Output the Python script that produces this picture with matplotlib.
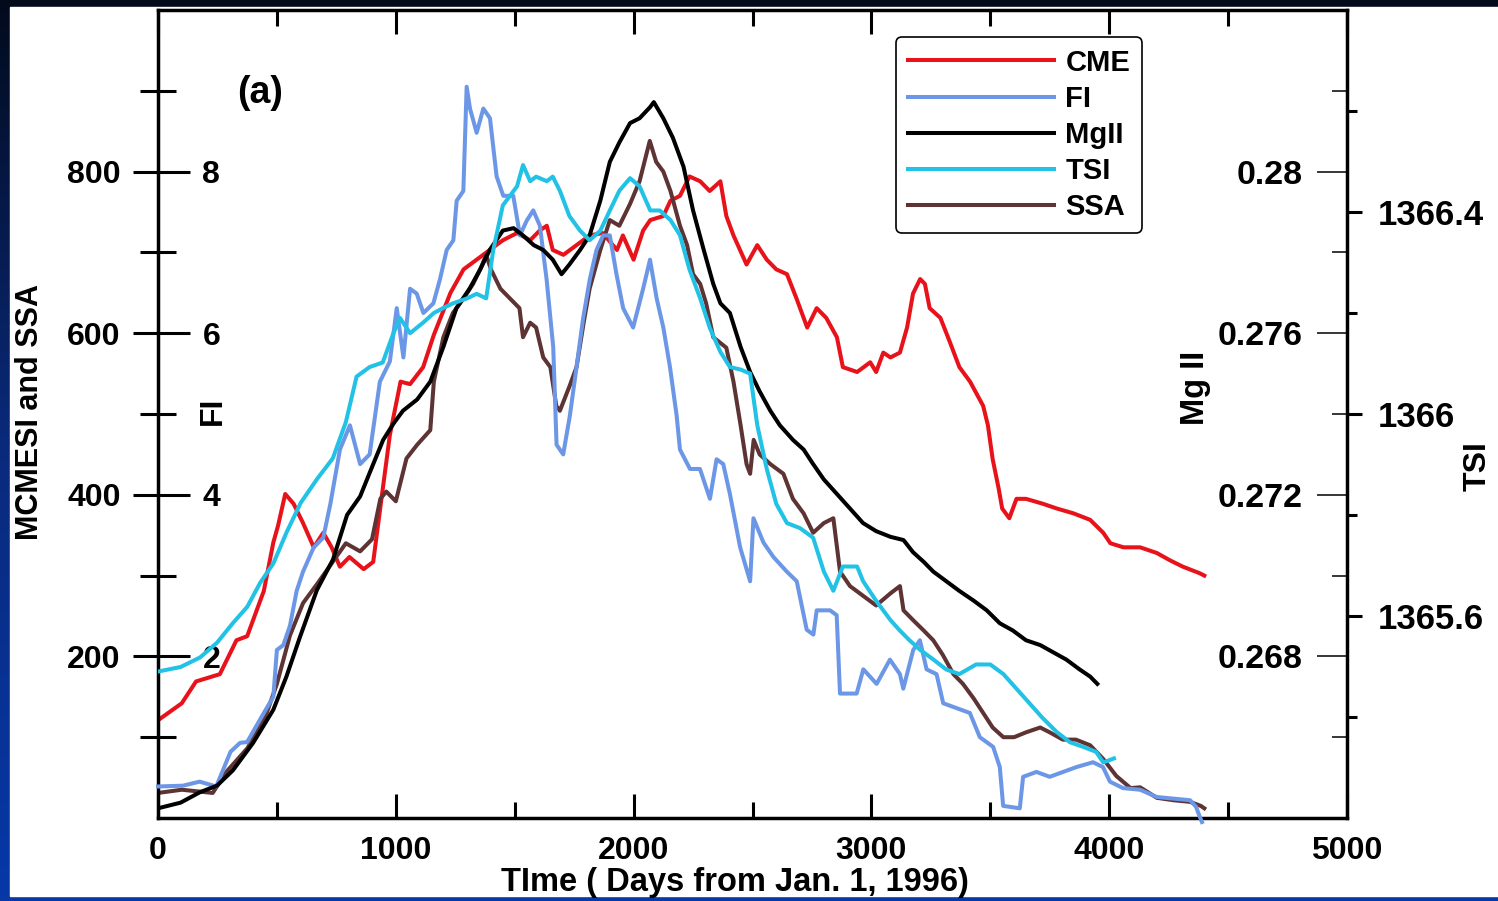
import numpy as np
import matplotlib
matplotlib.use("Agg")
import matplotlib.pyplot as plt
from matplotlib.colors import LinearSegmentedColormap
from matplotlib.patches import Rectangle
from matplotlib.ticker import FixedLocator, MultipleLocator, FormatStrFormatter

# (day, value) pairs, each in its own axis unit
cme = [(0, 121), (100, 142), (160, 169), (260, 178), (330, 220), (375, 225), (445, 281), (485, 341),
       (505, 362), (535, 401), (570, 389), (610, 365), (655, 335), (695, 353), (730, 335), (765, 311),
       (805, 323), (865, 308), (905, 317), (945, 407), (975, 474), (1020, 540), (1060, 537), (1115, 558),
       (1160, 598), (1230, 650), (1285, 679), (1340, 691), (1395, 703), (1450, 715), (1510, 724), (1565, 715),
       (1605, 727), (1635, 733), (1660, 703), (1705, 697), (1760, 709), (1815, 721), (1870, 724), (1930, 703),
       (1955, 721), (2000, 691), (2040, 727), (2070, 740), (2125, 745), (2155, 764), (2195, 770), (2235, 794),
       (2280, 788), (2320, 776), (2365, 788), (2390, 745), (2420, 721), (2475, 685), (2520, 709), (2560, 691),
       (2600, 679), (2645, 673), (2685, 643), (2730, 607), (2770, 631), (2810, 619), (2855, 595), (2880, 558),
       (2940, 552), (2995, 564), (3020, 552), (3050, 576), (3080, 570), (3120, 576), (3150, 607), (3175, 649),
       (3205, 667), (3225, 661), (3245, 631), (3290, 619), (3330, 589), (3370, 558), (3415, 540), (3470, 510),
       (3490, 486), (3510, 444), (3535, 408), (3550, 383), (3580, 371), (3610, 395), (3650, 395), (3720, 389),
       (3780, 383), (3850, 377), (3920, 369), (3975, 353), (4005, 340), (4060, 335), (4130, 335), (4200, 328),
       (4255, 319), (4310, 311), (4380, 303), (4400, 300)]

ssa = [(0, 31), (100, 35), (230, 31), (290, 58), (375, 86), (450, 124), (500, 166), (555, 226), (610, 266),
       (670, 290), (730, 315), (790, 340), (850, 330), (900, 345), (935, 395), (960, 404), (1000, 392),
       (1045, 445), (1090, 462), (1145, 480), (1160, 540), (1200, 595), (1240, 625), (1285, 643), (1325, 661),
       (1355, 679), (1380, 697), (1400, 679), (1440, 655), (1480, 643), (1520, 631), (1535, 595), (1565, 613),
       (1590, 607), (1620, 570), (1650, 558), (1675, 510), (1690, 504), (1730, 534), (1760, 558), (1790, 613),
       (1815, 655), (1860, 703), (1900, 740), (1940, 733), (1985, 760), (2025, 788), (2068, 838), (2095, 812),
       (2125, 800), (2155, 776), (2195, 733), (2225, 709), (2250, 673), (2280, 661), (2305, 637), (2335, 595),
       (2390, 582), (2420, 540), (2450, 486), (2475, 438), (2490, 426), (2505, 468), (2530, 450), (2575, 438),
       (2630, 426), (2670, 395), (2715, 377), (2755, 353), (2800, 365), (2840, 371), (2868, 305), (2910, 287),
       (2965, 275), (3020, 263), (3080, 278), (3120, 287), (3135, 257), (3175, 245), (3220, 232), (3260, 220),
       (3300, 202), (3345, 178), (3385, 166), (3430, 148), (3470, 130), (3510, 112), (3555, 100), (3600, 100),
       (3650, 106), (3710, 112), (3750, 106), (3805, 97), (3860, 97), (3920, 90), (3975, 73), (4030, 52),
       (4090, 37), (4130, 38), (4200, 25), (4270, 22), (4340, 20), (4385, 15), (4400, 12)]

fi = [(0, 0.39), (105, 0.40), (175, 0.45), (245, 0.39), (305, 0.82), (345, 0.93), (375, 0.94), (445, 1.30),
      (485, 1.50), (500, 2.08), (527, 2.14), (555, 2.38), (583, 2.81), (610, 3.05), (655, 3.35), (695, 3.47),
      (725, 3.89), (765, 4.56), (807, 4.86), (850, 4.38), (890, 4.50), (933, 5.40), (975, 5.65), (1004, 6.31),
      (1032, 5.70), (1060, 6.55), (1088, 6.49), (1116, 6.25), (1158, 6.37), (1186, 6.67), (1214, 7.03),
      (1242, 7.15), (1256, 7.64), (1284, 7.76), (1298, 9.05), (1312, 8.78), (1340, 8.48), (1368, 8.78),
      (1396, 8.66), (1424, 7.94), (1452, 7.70), (1494, 7.70), (1522, 7.21), (1550, 7.39), (1578, 7.52),
      (1606, 7.33), (1634, 6.67), (1662, 5.83), (1676, 4.62), (1704, 4.50), (1732, 4.98), (1760, 5.58),
      (1788, 6.19), (1816, 6.67), (1844, 7.03), (1872, 7.21), (1900, 7.21), (1928, 6.73), (1956, 6.31),
      (1998, 6.07), (2040, 6.55), (2069, 6.91), (2097, 6.43), (2125, 6.07), (2153, 5.58), (2181, 4.98),
      (2195, 4.56), (2237, 4.32), (2279, 4.32), (2321, 3.95), (2349, 4.44), (2377, 4.38), (2405, 4.01),
      (2448, 3.35), (2490, 2.93), (2504, 3.71), (2546, 3.41), (2588, 3.23), (2644, 3.05), (2686, 2.93),
      (2728, 2.33), (2756, 2.27), (2770, 2.57), (2826, 2.57), (2854, 2.51), (2868, 1.54), (2938, 1.54),
      (2966, 1.84), (3022, 1.66), (3078, 1.96), (3120, 1.78), (3134, 1.60), (3176, 2.08), (3204, 2.20),
      (3232, 1.84), (3274, 1.78), (3302, 1.42), (3358, 1.36), (3414, 1.30), (3456, 1.00), (3512, 0.88),
      (3540, 0.63), (3554, 0.15), (3624, 0.12), (3638, 0.51), (3694, 0.57), (3750, 0.51), (3806, 0.57),
      (3862, 0.63), (3932, 0.69), (3974, 0.63), (4003, 0.45), (4058, 0.37), (4130, 0.35), (4200, 0.26),
      (4270, 0.24), (4340, 0.22), (4365, 0.14), (4375, 0.06), (4390, -0.05)]

mgii = [(0, 0.26424), (95, 0.26438), (177, 0.26464), (248, 0.2648), (315, 0.26518), (400, 0.26586),
        (485, 0.26668), (540, 0.2675), (597, 0.26848), (668, 0.26964), (736, 0.2704), (795, 0.2715),
        (850, 0.27196), (905, 0.27276), (947, 0.27336), (990, 0.27376), (1030, 0.27408), (1090, 0.27436),
        (1145, 0.2748), (1200, 0.27566), (1255, 0.27662), (1310, 0.2771), (1355, 0.27758), (1395, 0.27806),
        (1450, 0.27854), (1495, 0.2786), (1535, 0.27842), (1580, 0.27818), (1620, 0.27806), (1660, 0.27782),
        (1697, 0.27746), (1730, 0.2777), (1775, 0.27806), (1815, 0.27842), (1860, 0.27928), (1900, 0.28024),
        (1940, 0.28072), (1985, 0.2812), (2025, 0.28132), (2070, 0.2816), (2085, 0.28172), (2125, 0.28132),
        (2165, 0.28084), (2210, 0.28012), (2250, 0.27904), (2295, 0.27806), (2335, 0.27722), (2365, 0.27674),
        (2405, 0.2765), (2450, 0.27566), (2490, 0.27504), (2530, 0.27456), (2575, 0.27408), (2615, 0.27372),
        (2670, 0.27336), (2715, 0.27312), (2755, 0.27276), (2800, 0.27238), (2855, 0.27202), (2910, 0.27166),
        (2965, 0.2713), (3020, 0.2711), (3080, 0.27096), (3135, 0.27088), (3175, 0.27058), (3220, 0.27034),
        (3260, 0.2701), (3315, 0.26986), (3370, 0.26962), (3430, 0.26938), (3485, 0.26914), (3540, 0.26882),
        (3595, 0.26864), (3650, 0.2684), (3710, 0.26828), (3765, 0.2681), (3820, 0.26792), (3875, 0.26768),
        (3920, 0.2675), (3950, 0.26732)]

tsi = [(0, 1365.490), (95, 1365.499), (177, 1365.518), (248, 1365.547), (315, 1365.586), (375, 1365.618),
       (430, 1365.666), (485, 1365.704), (540, 1365.765), (600, 1365.824), (670, 1365.872), (735, 1365.912),
       (790, 1365.984), (835, 1366.074), (890, 1366.093), (945, 1366.102), (990, 1366.16), (1018, 1366.19),
       (1060, 1366.16), (1115, 1366.181), (1160, 1366.2), (1200, 1366.21), (1240, 1366.219), (1300, 1366.229),
       (1340, 1366.238), (1380, 1366.229), (1410, 1366.325), (1450, 1366.413), (1480, 1366.432),
       (1510, 1366.451), (1535, 1366.493), (1565, 1366.461), (1590, 1366.47), (1635, 1366.461),
       (1660, 1366.47), (1690, 1366.442), (1730, 1366.392), (1775, 1366.363), (1815, 1366.344),
       (1860, 1366.363), (1900, 1366.403), (1940, 1366.442), (1985, 1366.467), (2025, 1366.451),
       (2070, 1366.403), (2110, 1366.403), (2155, 1366.384), (2195, 1366.354), (2235, 1366.286),
       (2280, 1366.229), (2320, 1366.171), (2365, 1366.123), (2405, 1366.093), (2450, 1366.088),
       (2490, 1366.08), (2520, 1365.978), (2560, 1365.891), (2600, 1365.822), (2645, 1365.784),
       (2700, 1365.774), (2755, 1365.755), (2800, 1365.688), (2840, 1365.65), (2880, 1365.698),
       (2940, 1365.698), (2965, 1365.669), (3020, 1365.63), (3080, 1365.592), (3120, 1365.571),
       (3160, 1365.552), (3205, 1365.533), (3260, 1365.514), (3315, 1365.494), (3370, 1365.485),
       (3440, 1365.504), (3500, 1365.504), (3555, 1365.485), (3610, 1365.456), (3665, 1365.427),
       (3720, 1365.398), (3780, 1365.37), (3835, 1365.35), (3890, 1365.341), (3945, 1365.331),
       (3975, 1365.31), (4020, 1365.318)]

series_names = ["CME", "FI", "MgII", "TSI", "SSA"]
series_colors = ["#E8121A", "#6C97E6", "#000000", "#22C2E6", "#5E3333"]

x_ticks = [0, 1000, 2000, 3000, 4000, 5000]
mcmesi_ticks = [200, 400, 600, 800]
fi_ticks = [2, 4, 6, 8]
mg_ticks = [0.268, 0.272, 0.276, 0.28]
tsi_ticks = [1365.6, 1366.0, 1366.4]

plt.rcParams['font.family'] = ['Liberation Sans', 'DejaVu Sans']
plt.rcParams['font.weight'] = 'bold'

W, H = 1498, 901
fig = plt.figure(figsize=(W / 100, H / 100), dpi=100)

# dark blue backdrop with the white panel on it
bg = fig.add_axes([0, 0, 1, 1], zorder=-10)
grad = np.linspace(0, 1, 256).reshape(-1, 1)
cmap = LinearSegmentedColormap.from_list("bg", ["#0638a8", "#0a2a7c", "#020a1c"])
bg.imshow(grad, aspect="auto", cmap=cmap, extent=[0, 1, 0, 1], origin="lower")
bg.add_patch(Rectangle((10 / W, 5 / H), 1, 889 / H, color="white"))
bg.set_xlim(0, 1)
bg.set_ylim(0, 1)
bg.set_axis_off()

ax = fig.add_axes([158 / W, 83 / H, 1189 / W, 808 / H])
ax.set_xlim(0, 5000)
ax.set_ylim(0, 1000)
lw = 2.9

def unzip(points):
    d = [p[0] for p in points]
    v = [p[1] for p in points]
    return d, v

ax_fi = ax.twinx()
ax_mg = ax.twinx()
ax_tsi = ax.twinx()

d, v = unzip(cme)
l_cme, = ax.plot(d, v, color=series_colors[0], lw=lw)
d, v = unzip(ssa)
l_ssa, = ax.plot(d, v, color=series_colors[4], lw=lw)
d, v = unzip(fi)
l_fi, = ax_fi.plot(d, v, color=series_colors[1], lw=lw, clip_on=False)
d, v = unzip(mgii)
l_mg, = ax_mg.plot(d, v, color=series_colors[2], lw=lw)
d, v = unzip(tsi)
l_tsi, = ax_tsi.plot(d, v, color=series_colors[3], lw=lw)

for sp in ax.spines.values():
    sp.set_linewidth(2.5)

# x axis, ticks inside on bottom and top
ax.xaxis.set_major_locator(FixedLocator(x_ticks))
ax.xaxis.set_minor_locator(MultipleLocator(500))
ax.tick_params(axis="x", which="both", direction="in", top=True, width=2.2, labelsize=23, pad=13)
ax.tick_params(axis="x", which="major", length=17)
ax.tick_params(axis="x", which="minor", length=11.5)

# MCMESI and SSA (outside left)
ax.yaxis.set_major_locator(FixedLocator(mcmesi_ticks))
ax.yaxis.set_minor_locator(FixedLocator([100, 300, 500, 700, 900]))
ax.tick_params(axis="y", which="both", direction="out", width=2.2, labelsize=23, pad=9, right=False)
ax.tick_params(axis="y", which="major", length=18)
ax.tick_params(axis="y", which="minor", length=13)

# FI (inside left)
ax_fi.set_ylim(0, 10)
for k, sp in ax_fi.spines.items():
    sp.set_visible(False)
ax_fi.spines["right"].set_position(("axes", 0))
ax_fi.yaxis.set_ticks_position("right")
ax_fi.yaxis.set_major_locator(FixedLocator(fi_ticks))
ax_fi.yaxis.set_minor_locator(FixedLocator([1, 3, 5, 7, 9]))
ax_fi.yaxis.set_major_formatter(FormatStrFormatter("%g"))
ax_fi.tick_params(axis="y", which="both", direction="out", width=2.2, labelsize=23, pad=9)
ax_fi.tick_params(axis="y", which="major", length=23)
ax_fi.tick_params(axis="y", which="minor", length=13)

# Mg II (inside right)
ax_mg.set_ylim(0.264, 0.284)
for k, sp in ax_mg.spines.items():
    sp.set_visible(False)
ax_mg.spines["left"].set_position(("axes", 1))
ax_mg.yaxis.set_ticks_position("left")
ax_mg.yaxis.set_major_locator(FixedLocator(mg_ticks))
ax_mg.yaxis.set_minor_locator(FixedLocator([0.266, 0.270, 0.274, 0.278, 0.282]))
ax_mg.yaxis.set_major_formatter(FormatStrFormatter("%g"))
ax_mg.tick_params(axis="y", which="both", direction="out", width=1.1, labelsize=24.5, pad=10.5)
ax_mg.tick_params(axis="y", which="major", length=21.6)
ax_mg.tick_params(axis="y", which="minor", length=10.8)

# TSI (outside right)
ax_tsi.set_ylim(1365.2, 1366.8)
for k, sp in ax_tsi.spines.items():
    sp.set_visible(False)
ax_tsi.yaxis.set_major_locator(FixedLocator(tsi_ticks))
ax_tsi.yaxis.set_minor_locator(FixedLocator([1365.4, 1365.8, 1366.2, 1366.6]))
ax_tsi.yaxis.set_major_formatter(FormatStrFormatter("%g"))
ax_tsi.tick_params(axis="y", which="both", direction="out", width=2.2, labelsize=25, pad=11)
ax_tsi.tick_params(axis="y", which="major", length=10.8)
ax_tsi.tick_params(axis="y", which="minor", length=7.2)

# axis labels
def place_ylabel(a, text, x, y, size=22):
    a.set_ylabel(text, fontsize=size, fontweight="bold")
    a.yaxis.set_label_coords(x, y)
    lbl = a.yaxis.label
    lbl.set_rotation(90)
    lbl.set_rotation_mode("anchor")
    lbl.set_va("center")
    lbl.set_ha("center")

place_ylabel(ax, "MCMESI and SSA", -0.1077, 0.5025)
place_ylabel(ax_fi, "FI", 0.0463, 0.504, 23)
place_ylabel(ax_mg, "Mg II", 0.873, 0.532, 23.5)
place_ylabel(ax_tsi, "TSI", 1.110, 0.4356, 23)

ax.set_xlabel("TIme ( Days from Jan. 1, 1996)", fontsize=23.5, fontweight="bold")
ax.xaxis.set_label_coords(0.4853, -0.0804)
ax.xaxis.label.set_va("center")

ax.text(0.0858, 0.897, "(a)", transform=ax.transAxes, fontsize=27, ha="center", va="center")

leg = ax_tsi.legend([l_cme, l_fi, l_mg, l_tsi, l_ssa], series_names, loc="upper right",
                    bbox_to_anchor=(0.8276, 0.9666), fontsize=21, handlelength=5.0,
                    handletextpad=0.4, labelspacing=0.28, borderpad=0.4, borderaxespad=0,
                    fancybox=True, framealpha=1, edgecolor="black")
leg.get_frame().set_linewidth(1.2)

fig.savefig("out.png", dpi=100)
